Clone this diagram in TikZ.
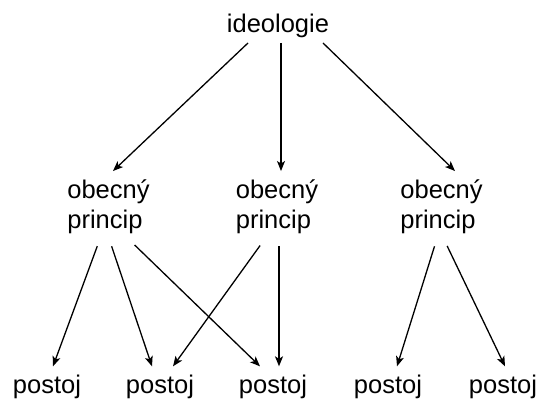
\documentclass[tikz,border=0pt]{standalone}
\usepackage{fontspec}
\setmainfont{Liberation Sans}
\usetikzlibrary{arrows.meta}

\begin{document}
\begin{tikzpicture}[x=1pt, y=1pt,
    word/.style={font=\fontsize{25.5}{30}\selectfont, inner sep=8pt, anchor=base, align=left},
    link/.style={line width=1.3pt, -{Stealth[length=10pt, width=8pt, inset=2.5pt]}},
    down/.style={link, shorten <=5pt}]
    \useasboundingbox (0,0) rectangle (537,399);
    % top
    \node[word, inner sep=4.5pt] (ideo) at (278,366) {ideologie};
    % principles
    \node[word] (prin1) at (108.5,171) {obecný\\princip};
    \node[word] (prin2) at (277,171) {obecný\\princip};
    \node[word] (prin3) at (441.5,171) {obecný\\princip};
    % attitudes
    \node[word] (att1) at (47,6) {postoj};
    \node[word] (att2) at (160,6) {postoj};
    \node[word] (att3) at (273,6) {postoj};
    \node[word] (att4) at (388,6) {postoj};
    \node[word] (att5) at (503,6) {postoj};
    \draw[link] ([xshift=-30pt]ideo.south) -- ([xshift=4.5pt]prin1.north);
    \draw[link] ([xshift=3pt]ideo.south) -- ([xshift=4pt]prin2.north);
    \draw[link] ([xshift=45pt]ideo.south) -- ([xshift=13.5pt]prin3.north);
    \draw[down] ([xshift=-9.5pt]prin1.south) -- ([xshift=6pt]att1.north);
    \draw[down] ([xshift=1.5pt]prin1.south) -- ([xshift=-8pt]att2.north);
    \draw[down] ([xshift=22.5pt]prin1.south) -- ([xshift=-13pt]att3.north);
    \draw[down] ([xshift=-14pt]prin2.south) -- ([xshift=13pt]att2.north);
    \draw[down] ([xshift=2pt]prin2.south) -- ([xshift=6pt]att3.north);
    \draw[down] ([xshift=-5.5pt]prin3.south) -- ([xshift=9pt]att4.north);
    \draw[down] ([xshift=3.5pt]prin3.south) -- ([xshift=2pt]att5.north);
\end{tikzpicture}
\end{document}
